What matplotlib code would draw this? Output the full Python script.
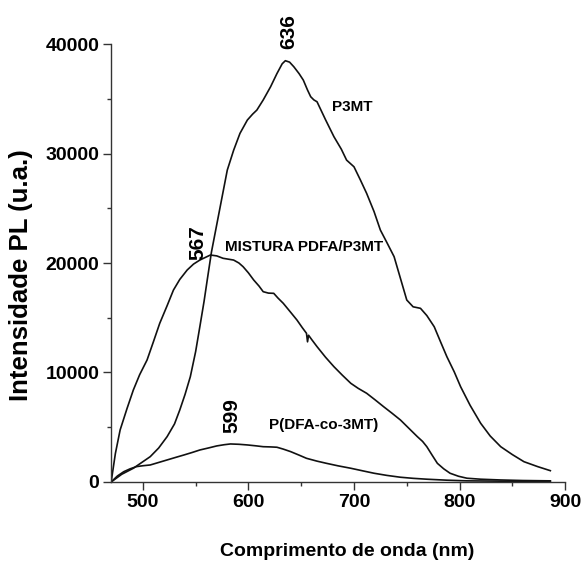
import matplotlib
matplotlib.use("Agg")
import matplotlib.pyplot as plt
from matplotlib.ticker import MultipleLocator

plt.rcParams['font.family'] = ['Liberation Sans', 'DejaVu Sans']
plt.rcParams['font.weight'] = 'bold'

# PL spectra (wavelength in nm, intensity in a.u.)
p3mt_wl = [470, 480, 491, 507, 515, 523, 530, 535, 540, 545, 550, 554, 558, 561,
           565, 569, 575, 580, 586, 592, 599, 604, 608, 614, 621, 627, 632, 635,
           639, 643, 648, 652, 656, 659, 662, 665, 673, 681, 688, 693, 700, 706,
           712, 719, 725, 731, 738, 744, 750, 756, 763, 769, 776, 782, 788, 795,
           801, 810, 820, 829, 839, 850, 861, 874, 886]
p3mt_int = [0, 700, 1250, 2310, 3100, 4140, 5300, 6575, 8000, 9620, 11900, 14180,
            16500, 18450, 21000, 23000, 26000, 28490, 30300, 31840, 33060, 33600,
            33970, 34890, 36100, 37300, 38200, 38480, 38350, 37930, 37300, 36710,
            35800, 35190, 34900, 34730, 33100, 31540, 30400, 29400, 28790, 27600,
            26360, 24700, 23010, 21900, 20580, 18600, 16620, 16000, 15860, 15200,
            14180, 12800, 11440, 10050, 8700, 7000, 5360, 4200, 3220, 2500, 1850,
            1400, 1030]

mix_wl = [470, 474, 478.5, 485, 491, 497, 504, 510, 516, 523, 529, 535, 542, 548,
          554, 559, 564, 570, 576, 581, 586, 591, 595, 600, 605, 610, 614, 619,
          624, 628, 633, 640, 646, 651, 655, 656, 657, 660, 665, 673, 681, 689,
          697, 704, 712, 720, 728, 736, 744, 752, 760, 765, 769, 774, 779, 785,
          791, 799, 807, 820, 839, 860, 886]
mix_int = [0, 2600, 4750, 6700, 8400, 9800, 11140, 12800, 14490, 16100, 17530,
           18500, 19360, 19900, 20270, 20500, 20730, 20650, 20430, 20350, 20270,
           20000, 19660, 19100, 18450, 17900, 17380, 17250, 17230, 16800, 16320,
           15500, 14790, 14100, 13580, 12800, 13400, 13000, 12360, 11400, 10530,
           9750, 9010, 8550, 8100, 7500, 6880, 6280, 5660, 4900, 4140, 3700, 3220,
           2450, 1700, 1200, 795, 520, 340, 250, 180, 130, 100]

pdfa_wl = [470, 476, 482, 488, 494, 500, 507, 515, 523, 531, 539, 547, 554, 562,
           570, 577, 583, 591, 599, 607, 614, 621, 627, 633, 640, 648, 655, 665,
           674, 685, 697, 708, 719, 731, 744, 756, 769, 788, 807, 840, 886]
pdfa_int = [0, 550, 940, 1200, 1400, 1480, 1550, 1780, 2010, 2240, 2465, 2700,
            2920, 3100, 3290, 3400, 3470, 3440, 3380, 3300, 3220, 3200, 3170,
            3000, 2770, 2450, 2160, 1900, 1700, 1470, 1250, 1020, 795, 600, 430,
            330, 250, 160, 100, 70, 50]

spectra = [(p3mt_wl, p3mt_int), (mix_wl, mix_int), (pdfa_wl, pdfa_int)]

# peak wavelength labels
peak_labels = ['636', '567', '599']
peak_text_pos = [(638.0, 41100), (552.5, 21900), (584.7, 6100)]

curve_names = ['P3MT', 'MISTURA PDFA/P3MT', 'P(DFA-co-3MT)']
curve_name_pos = [(698.5, 34250), (652.5, 21460), (671.4, 5200)]

fig = plt.figure(figsize=(5.82, 5.65), dpi=100)
ax = fig.add_axes([0.191, 0.147, 0.78, 0.775])

for wl, inten in spectra:
    ax.plot(wl, inten, color='#111111', lw=1.2)

for txt, (x, y) in zip(peak_labels, peak_text_pos):
    ax.text(x, y, txt, rotation=90, ha='center', va='center',
            fontsize=15, fontweight='bold', clip_on=False)

for txt, (x, y) in zip(curve_names, curve_name_pos):
    ax.text(x, y, txt, ha='center', va='center', fontsize=11,
            fontweight='bold')

ax.set_xlim(470, 900)
ax.set_ylim(0, 40000)
ax.xaxis.set_major_locator(MultipleLocator(100))
ax.xaxis.set_minor_locator(MultipleLocator(50))
ax.yaxis.set_major_locator(MultipleLocator(10000))
ax.yaxis.set_minor_locator(MultipleLocator(5000))

for side in ['top', 'right']:
    ax.spines[side].set_visible(False)
for side in ['left', 'bottom']:
    ax.spines[side].set_linewidth(1.0)
    ax.spines[side].set_color('#333333')

ax.tick_params(which='major', direction='out', length=5.5, width=1.0,
               labelsize=14, pad=3, color='#333333')
ax.tick_params(which='minor', direction='out', length=3, width=1.0,
               color='#333333')
for lab in ax.get_xticklabels() + ax.get_yticklabels():
    lab.set_fontweight('bold')

ax.set_xlabel('Comprimento de onda (nm)', fontsize=14, fontweight='bold',
              va='center')
ax.xaxis.set_label_coords((347.5 - 111) / 454, -(552 - 482) / 438)
ax.set_ylabel('Intensidade PL (u.a.)', fontsize=18.5, fontweight='bold',
              va='center')
ax.yaxis.set_label_coords(-(111 - 21) / 454, (482 - 275) / 438)

fig.savefig('out.png', dpi=100, facecolor='white')
